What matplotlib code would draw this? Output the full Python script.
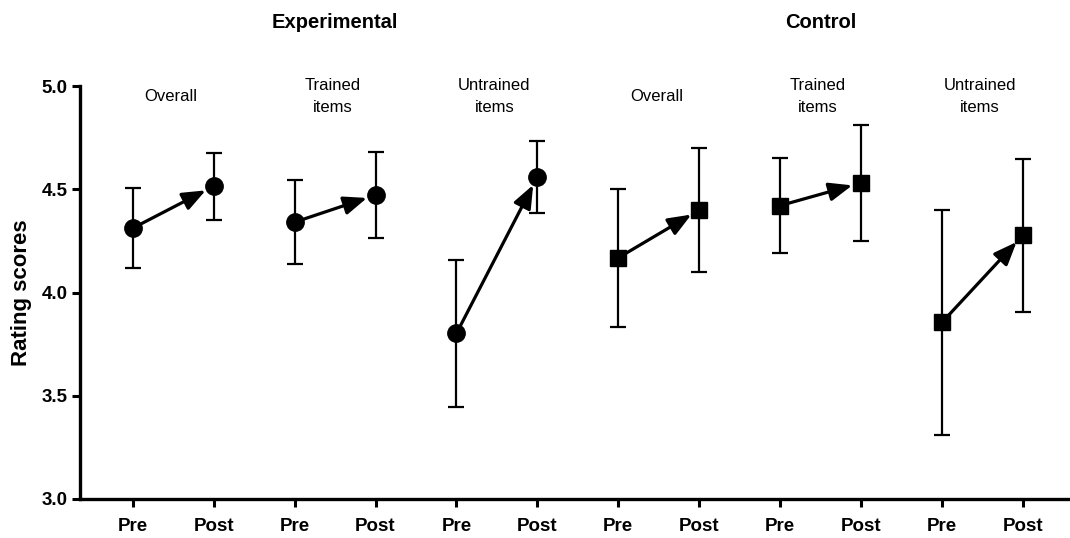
import matplotlib
matplotlib.use("Agg")
import matplotlib.pyplot as plt
import numpy as np

plt.rcParams.update({
    "font.family": ["Liberation Sans", "DejaVu Sans"],
    "axes.spines.top": False,
    "axes.spines.right": False,
})

# Six panels: Experimental (circles) then Control (squares)
groups = ["Experimental", "Control"]
conditions = ["Overall", "Trained\nitems", "Untrained\nitems"] * 2
tick_labels = ["Pre", "Post"] * 6

pre_mean = [4.312, 4.341, 3.802, 4.168, 4.421, 3.855]
post_mean = [4.515, 4.472, 4.560, 4.400, 4.531, 4.277]
pre_err = [0.195, 0.205, 0.358, 0.333, 0.230, 0.543]
post_err = [0.163, 0.208, 0.176, 0.302, 0.282, 0.370]
markers = ["o", "o", "o", "s", "s", "s"]

fig = plt.figure(figsize=(10.7, 5.38), dpi=100)
ax = fig.add_axes([0.075, 0.0725, 0.93, 0.7675])

xs = np.arange(1, 13)
for i in range(6):
    xp, xq = xs[2 * i], xs[2 * i + 1]
    mk = markers[i]
    ms = 12.5 if mk == "o" else 11.5
    ax.errorbar([xp, xq], [pre_mean[i], post_mean[i]],
                yerr=[pre_err[i], post_err[i]], fmt=mk, ms=ms,
                color="black", ecolor="black", elinewidth=1.6,
                capsize=5.5, capthick=1.6, zorder=3)
    ax.annotate("", xy=(xq, post_mean[i]), xytext=(xp, pre_mean[i]),
                arrowprops=dict(arrowstyle="-|>,head_length=1.0,head_width=0.4",
                                lw=2.3, color="black", shrinkA=0, shrinkB=6.5,
                                mutation_scale=14),
                zorder=4)
    ax.text((xp + xq) / 2 - 0.03, 4.95, conditions[i], ha="center", va="center",
            fontsize=12, linespacing=1.55)

for g, name in enumerate(groups):
    ax.text(xs[6 * g:6 * g + 6].mean(), 5.31, name, ha="center", va="center",
            fontsize=14.5, fontweight="bold", clip_on=False)

ax.set_xlim(0.35, 12.65)
ax.set_ylim(3.0, 5.0)
ax.set_yticks([3.0, 3.5, 4.0, 4.5, 5.0])
ax.set_yticklabels(["3.0", "3.5", "4.0", "4.5", "5.0"])
ax.set_xticks(xs)
ax.set_xticklabels(tick_labels)
ax.set_ylabel("Rating scores", fontsize=16, fontweight="bold", labelpad=7)

for sp in ("left", "bottom"):
    ax.spines[sp].set_linewidth(2.4)
ax.tick_params(axis="both", length=6, width=2.2, labelsize=13.5, pad=3)
ax.tick_params(axis="x", pad=7.5)
for lab in ax.get_xticklabels() + ax.get_yticklabels():
    lab.set_fontweight("bold")

fig.savefig("out.png", dpi=100)
